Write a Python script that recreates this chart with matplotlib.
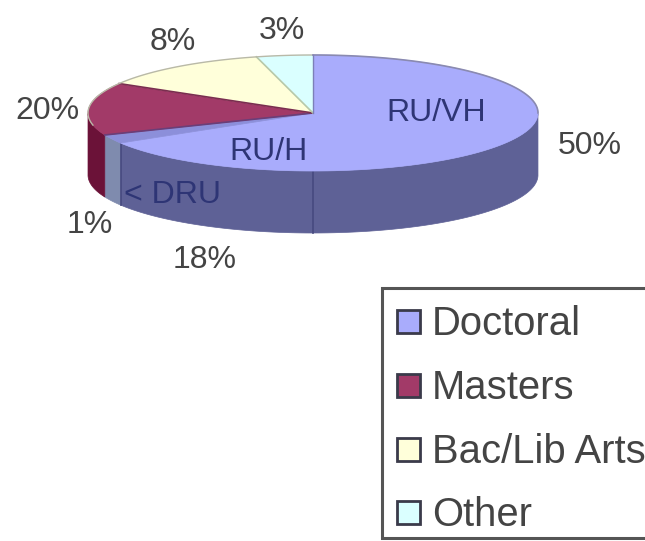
import numpy as np
import matplotlib
matplotlib.use("Agg")
import matplotlib.pyplot as plt
from matplotlib.patches import Polygon, Rectangle

plt.rcParams['font.family'] = ['Liberation Sans', 'DejaVu Sans']

# Slices, clockwise from 12 o'clock
slice_values = [50, 18, 1, 20, 8, 3]
pct_labels = ["50%", "18%", "1%", "20%", "8%", "3%"]
top_colors = ["#A9ACFC", "#A9ACFC", "#8C8FDA", "#A23A68", "#FFFFDA", "#DAFFFF"]
side_colors = ["#5E6196", "#5E6196", "#7F8BAE", "#6B1238", "#A0A080", "#80A0A0"]

inner_labels = ["RU/VH", "RU/H", "< DRU"]
legend_names = ["Doctoral", "Masters", "Bac/Lib Arts", "Other"]
legend_colors = ["#A9ACFC", "#A23A68", "#FFFFDA", "#DAFFFF"]

# Disc geometry in pixels
cx, cy, rx, ry, depth = 313, 113, 225, 58, 62


def view_angle(phi):
    # the 3D view squeezes the back left part of the disc and stretches the front corner
    phi = np.asarray(phi, dtype=float)
    t = np.clip((phi - 245) / 115, 0, 1)
    back = 24 * np.sin(np.pi * t) ** 1.5
    front = np.interp(phi, [180, 244.8, 248.4], [0, 6, 0])
    return phi - back - front


def rim(phi):
    a = np.radians(view_angle(phi))
    return cx + rx * np.sin(a), cy - ry * np.cos(a)


fig = plt.figure(figsize=(6.45, 5.41), dpi=100)
ax = fig.add_axes([0, 0, 1, 1])
ax.set_xlim(0, 645)
ax.set_ylim(541, 0)
ax.axis("off")

edges = np.concatenate([[0], np.cumsum(slice_values)]) * 3.6

# Outer wall of the slices facing the viewer
for i in range(len(slice_values)):
    a = np.linspace(edges[i], edges[i + 1], 100)
    a = a[np.cos(np.radians(view_angle(a))) < 0.0]
    if len(a) == 0:
        continue
    x, y = rim(a)
    pts = np.vstack([np.column_stack([x, y]),
                     np.column_stack([x[::-1], y[::-1] + depth])])
    ax.add_patch(Polygon(pts, closed=True, fc=side_colors[i], ec=side_colors[i], lw=0.5, zorder=2))

# Dark seams where the wall changes slice
for e in edges[1:3]:
    x, y = rim(e)
    ax.plot([x, x], [y, y + depth], color="#474A80", lw=1.2, zorder=3)

# Top face
for i in range(len(slice_values)):
    a = np.linspace(edges[i], edges[i + 1], 100)
    x, y = rim(a)
    pts = np.vstack([[cx, cy], np.column_stack([x, y])])
    ax.add_patch(Polygon(pts, closed=True, fc=top_colors[i], ec=top_colors[i], lw=0.5, zorder=4))

# Slice borders on the top face
for e, col in zip(edges[3:6], ["#6A3E78", "#7A2E50", "#B8C8A8"]):
    x, y = rim(e)
    ax.plot([cx, x], [cy, y], color=col, lw=1.2, zorder=5)
x, y = rim(np.linspace(270, 360, 100))
ax.plot(x, y, color="#B9B9A8", lw=1, zorder=5)
x, y = rim(np.linspace(0, 90, 100))
ax.plot(x, y, color="#8A8AB0", lw=1.2, zorder=5)
ax.plot([cx, cx], [55, cy], color="#7C80B8", lw=1, zorder=5)

# Labels on the disc
label_color = "#2E3575"
ax.text(436, 113, inner_labels[0], fontsize=23, color=label_color, ha="center", va="center", zorder=6)
ax.text(268, 152, inner_labels[1], fontsize=23, color=label_color, ha="center", va="center", zorder=6)
ax.text(172, 195, inner_labels[2], fontsize=23, color=label_color, ha="center", va="center", zorder=6)

# Percentages around the disc
pct_xy = [(590, 146), (205, 260), (90, 225), (47, 111), (173, 42), (282, 31)]
for txt, (px, py) in zip(pct_labels, pct_xy):
    ax.text(px, py, txt, fontsize=23, color="#444444", ha="center", va="center", zorder=6)

# Legend box runs off the right edge
ax.add_patch(Rectangle((382, 288), 300, 250, fc="white", ec="#555555", lw=2.2, zorder=1, clip_on=True))
legend_y = [321, 385, 449, 512]
for name, col, ly in zip(legend_names, legend_colors, legend_y):
    ax.add_patch(Rectangle((397, ly - 11), 23, 23, fc=col, ec="#3A3A4A", lw=2, zorder=6))
    ax.text(432, ly + 3, name, fontsize=28.8, color="#444444", ha="left", va="center", zorder=6)

plt.savefig("out.png", dpi=100)
